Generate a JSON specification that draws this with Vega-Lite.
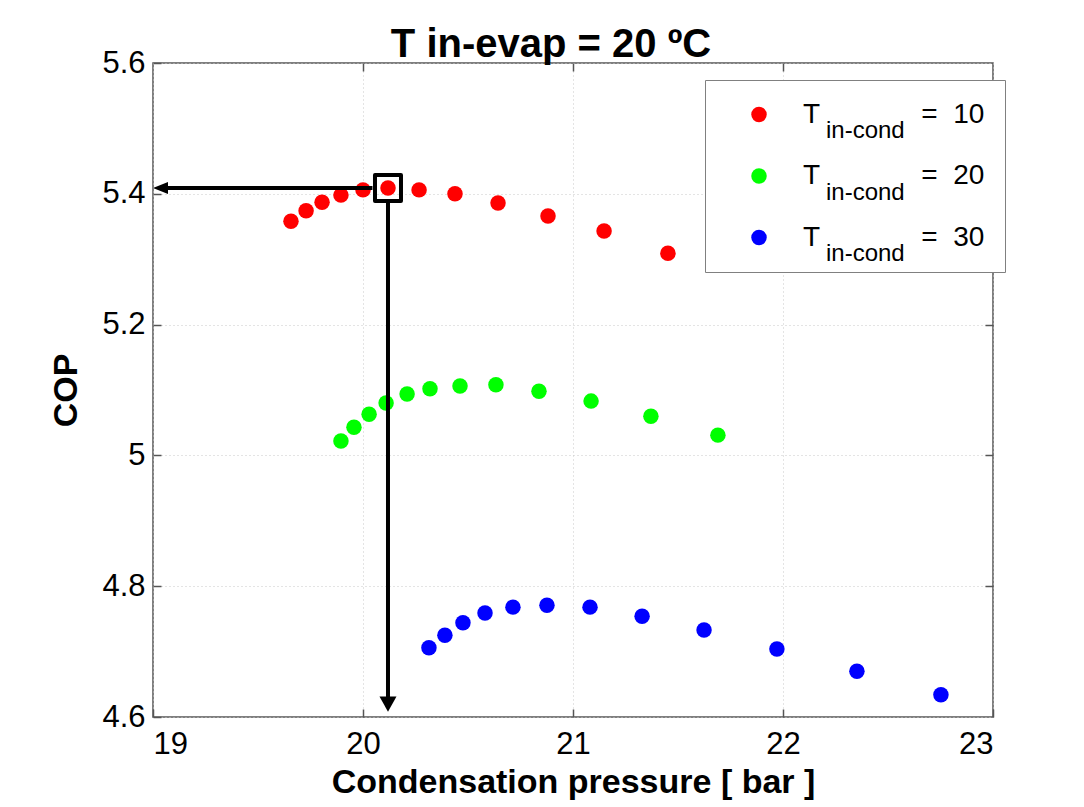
{
  "$schema": "https://vega.github.io/schema/vega-lite/v6.json",
  "width": 840,
  "height": 654,
  "autosize": {"type": "none"},
  "padding": {"left": 153, "top": 63, "right": 91, "bottom": 90},
  "background": "white",
  "title": {
    "text": "T in-evap = 20 ºC",
    "font": "Liberation Sans",
    "fontSize": 40,
    "fontWeight": "bold",
    "color": "black",
    "anchor": "middle",
    "frame": "group",
    "dx": -22,
    "offset": 0,
    "dy": 18
  },
  "config": {
    "view": {"stroke": "#555555", "strokeWidth": 1.5},
    "axis": {
      "labelFont": "Liberation Sans",
      "labelFontSize": 31,
      "labelColor": "black",
      "titleFont": "Liberation Sans",
      "titleFontSize": 34,
      "titleFontWeight": "bold",
      "titleColor": "black",
      "gridColor": "#c8c8c8",
      "gridDash": [1, 3],
      "gridWidth": 1,
      "domain": false,
      "tickColor": "#555555",
      "tickSize": -8,
      "tickWidth": 1.5
    },
    "legend": {
      "labelFont": "Liberation Sans",
      "labelFontSize": 28,
      "labelColor": "black",
      "labelLimit": 500
    }
  },
  "datasets": {
    "pts": [
      {"pressure": 19.657, "cop": 5.358, "T": "10"},
      {"pressure": 19.729, "cop": 5.374, "T": "10"},
      {"pressure": 19.805, "cop": 5.387, "T": "10"},
      {"pressure": 19.895, "cop": 5.398, "T": "10"},
      {"pressure": 20.0, "cop": 5.406, "T": "10"},
      {"pressure": 20.119, "cop": 5.409, "T": "10"},
      {"pressure": 20.267, "cop": 5.406, "T": "10"},
      {"pressure": 20.438, "cop": 5.4, "T": "10"},
      {"pressure": 20.643, "cop": 5.386, "T": "10"},
      {"pressure": 20.881, "cop": 5.366, "T": "10"},
      {"pressure": 21.148, "cop": 5.343, "T": "10"},
      {"pressure": 21.452, "cop": 5.309, "T": "10"},
      {"pressure": 19.895, "cop": 5.022, "T": "20"},
      {"pressure": 19.957, "cop": 5.043, "T": "20"},
      {"pressure": 20.029, "cop": 5.063, "T": "20"},
      {"pressure": 20.11, "cop": 5.08, "T": "20"},
      {"pressure": 20.21, "cop": 5.094, "T": "20"},
      {"pressure": 20.319, "cop": 5.102, "T": "20"},
      {"pressure": 20.462, "cop": 5.106, "T": "20"},
      {"pressure": 20.633, "cop": 5.108, "T": "20"},
      {"pressure": 20.838, "cop": 5.098, "T": "20"},
      {"pressure": 21.086, "cop": 5.083, "T": "20"},
      {"pressure": 21.371, "cop": 5.06, "T": "20"},
      {"pressure": 21.69, "cop": 5.031, "T": "20"},
      {"pressure": 20.314, "cop": 4.706, "T": "30"},
      {"pressure": 20.39, "cop": 4.725, "T": "30"},
      {"pressure": 20.476, "cop": 4.744, "T": "30"},
      {"pressure": 20.581, "cop": 4.759, "T": "30"},
      {"pressure": 20.714, "cop": 4.768, "T": "30"},
      {"pressure": 20.876, "cop": 4.771, "T": "30"},
      {"pressure": 21.081, "cop": 4.768, "T": "30"},
      {"pressure": 21.329, "cop": 4.754, "T": "30"},
      {"pressure": 21.624, "cop": 4.733, "T": "30"},
      {"pressure": 21.971, "cop": 4.704, "T": "30"},
      {"pressure": 22.352, "cop": 4.67, "T": "30"},
      {"pressure": 22.752, "cop": 4.634, "T": "30"}
    ]
  },
  "layer": [
    {
      "data": {"name": "pts"},
      "mark": {"type": "circle", "size": 240, "opacity": 1},
      "encoding": {
        "x": {
          "field": "pressure",
          "type": "quantitative",
          "scale": {"domain": [19, 23], "nice": false, "zero": false},
          "axis": {
            "orient": "bottom",
            "values": [19, 20, 21, 22, 23],
            "title": "Condensation pressure [ bar ]",
            "labelPadding": 20,
            "titlePadding": 6
          }
        },
        "y": {
          "field": "cop",
          "type": "quantitative",
          "scale": {"domain": [4.6, 5.6], "nice": false, "zero": false},
          "axis": {
            "orient": "left",
            "values": [4.6, 4.8, 5, 5.2, 5.4, 5.6],
            "format": "~g",
            "title": "COP",
            "labelPadding": 16,
            "titlePadding": 18
          }
        },
        "color": {
          "field": "T",
          "type": "nominal",
          "scale": {"domain": ["10", "20", "30"], "range": ["#ff0000", "#00ff00", "#0000ff"]},
          "legend": {
            "title": null,
            "orient": "none",
            "legendX": 552,
            "legendY": 17,
            "fillColor": "white",
            "strokeColor": "#808080",
            "padding": 20.5,
            "symbolType": "circle",
            "symbolSize": 240,
            "symbolOffset": 19.5,
            "labelOffset": 30,
            "rowPadding": 33.5,
            "labelBaseline": "middle",
            "labelExpr": "'T\u00a0\u00a0\u00a0\u00a0\u00a0\u00a0\u00a0\u00a0\u00a0\u00a0\u00a0\u00a0\u00a0=\u00a0\u00a0' + datum.label"
          }
        }
      }
    },
    {
      "data": {"name": "pts"},
      "mark": {"type": "point", "opacity": 0},
      "encoding": {
        "x": {"field": "pressure", "type": "quantitative", "axis": null},
        "y": {"field": "cop", "type": "quantitative", "axis": null},
        "shape": {
          "field": "T",
          "type": "nominal",
          "scale": {"domain": ["a", "b", "c"], "range": ["circle", "circle", "circle"]},
          "legend": {
            "title": null,
            "orient": "none",
            "legendX": 647,
            "legendY": 56,
            "padding": 0,
            "symbolOpacity": 0,
            "symbolSize": 4,
            "symbolOffset": 0,
            "labelOffset": 2,
            "labelFontSize": 24,
            "rowPadding": 37.5,
            "labelBaseline": "middle",
            "labelExpr": "'in-cond'"
          }
        }
      }
    },
    {
      "data": {"values": [{"x": 20.045, "x2": 19.04, "y": 5.409}]},
      "mark": {"type": "rule", "color": "black", "strokeWidth": 4},
      "encoding": {
        "x": {
          "field": "x",
          "type": "quantitative",
          "axis": {"orient": "top", "labels": false, "grid": false, "title": null, "values": [20, 21, 22]}
        },
        "x2": {"field": "x2"},
        "y": {
          "field": "y",
          "type": "quantitative",
          "axis": {"orient": "right", "labels": false, "grid": false, "title": null, "values": [4.8, 5, 5.2, 5.4]}
        }
      }
    },
    {
      "data": {"values": [{"x": 20.119, "y": 5.386, "y2": 4.623}]},
      "mark": {"type": "rule", "color": "black", "strokeWidth": 4},
      "encoding": {
        "x": {"field": "x", "type": "quantitative", "axis": null},
        "y": {"field": "y", "type": "quantitative", "axis": null},
        "y2": {"field": "y2"}
      }
    },
    {
      "data": {"values": [{"x": 20.119, "y": 5.409}]},
      "mark": {"type": "point", "shape": "square", "filled": false, "size": 676, "strokeWidth": 4, "color": "black", "opacity": 1, "strokeJoin": "round"},
      "encoding": {
        "x": {"field": "x", "type": "quantitative", "axis": null},
        "y": {"field": "y", "type": "quantitative", "axis": null}
      }
    },
    {
      "data": {"values": [{"x": 19.0, "y": 5.409}]},
      "mark": {"type": "point", "shape": "M0,0L2,-0.8L2,0.8Z", "filled": true, "size": 225, "color": "black", "opacity": 1, "strokeWidth": 0},
      "encoding": {
        "x": {"field": "x", "type": "quantitative", "axis": null},
        "y": {"field": "y", "type": "quantitative", "axis": null}
      }
    },
    {
      "data": {"values": [{"x": 20.119, "y": 4.608}]},
      "mark": {"type": "point", "shape": "M0,0L-1,-1.8L1,-1.8Z", "filled": true, "size": 289, "color": "black", "opacity": 1, "strokeWidth": 0},
      "encoding": {
        "x": {"field": "x", "type": "quantitative", "axis": null},
        "y": {"field": "y", "type": "quantitative", "axis": null}
      }
    }
  ],
  "resolve": {"axis": {"x": "independent", "y": "independent"}}
}
